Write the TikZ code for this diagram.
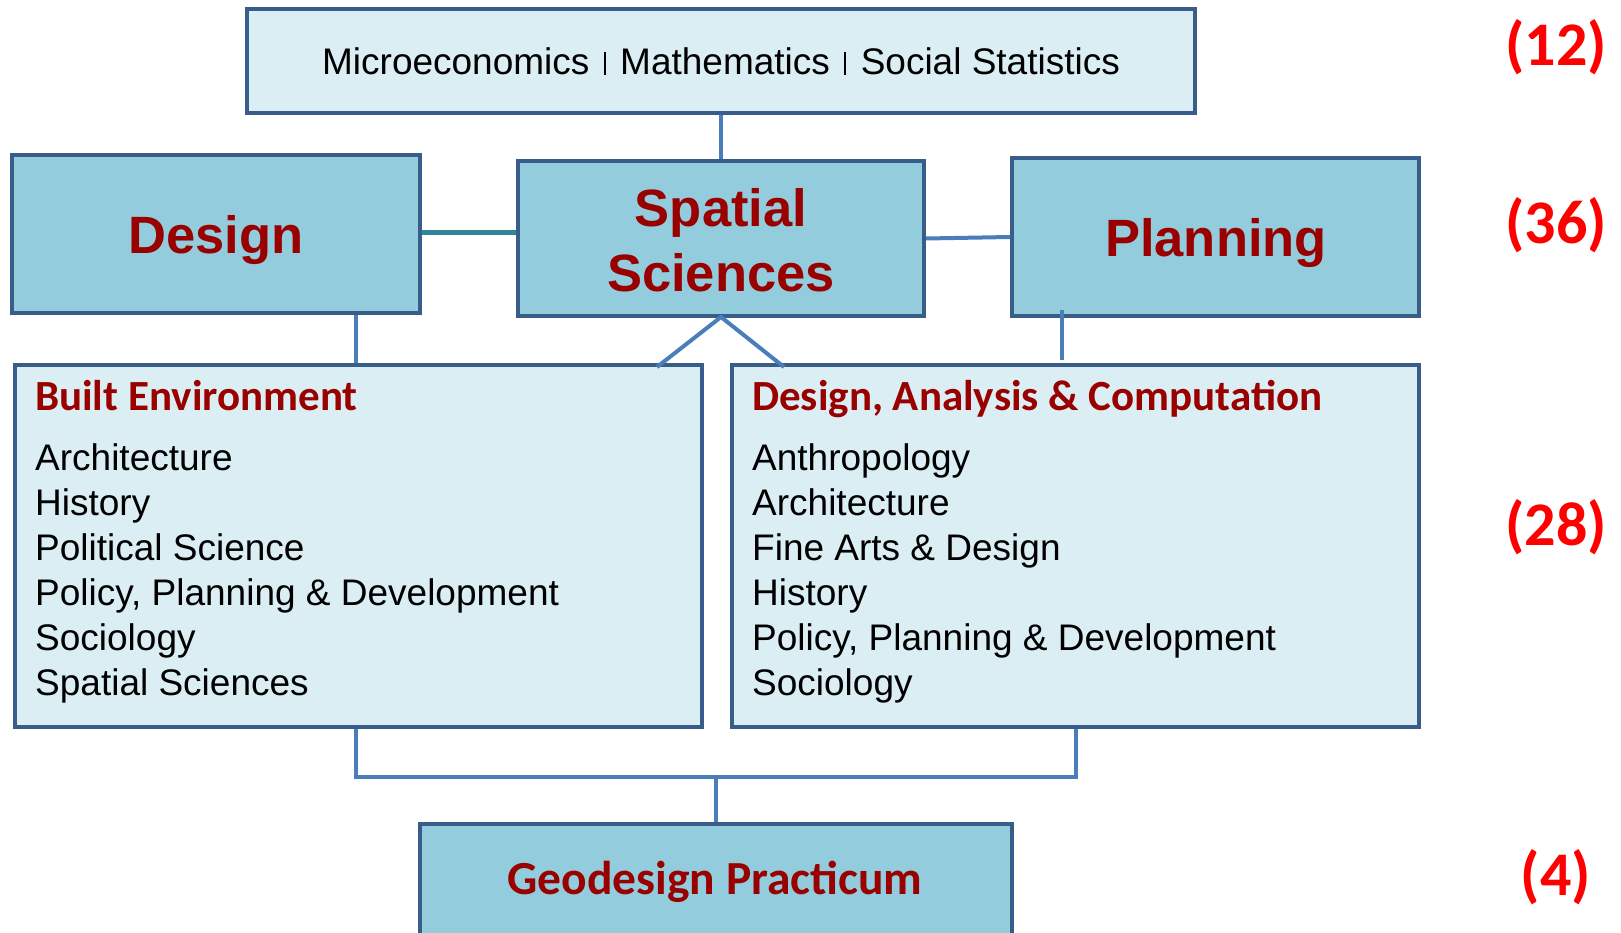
\documentclass[tikz,border=0pt]{standalone}
\usepackage{fontspec}
\setmainfont{Liberation Sans}
\newfontfamily\calib{Carlito}
\definecolor{lightfill}{RGB}{219,238,244}
\definecolor{darkfill}{RGB}{147,205,221}
\definecolor{bordercol}{RGB}{56,93,138}
\definecolor{linkcol}{RGB}{74,126,187}
\definecolor{tealcol}{RGB}{49,132,155}
\definecolor{titlered}{RGB}{153,0,0}
\definecolor{numred}{RGB}{255,0,0}
\tikzset{
  box/.style={draw=bordercol, line width=4pt, inner sep=0pt, rectangle},
  lightbox/.style={box, fill=lightfill},
  darkbox/.style={box, fill=darkfill},
  link/.style={draw=linkcol, line width=4pt},
  teallink/.style={draw=tealcol, line width=5pt},
  bigtitle/.style={text=titlered, font=\fontsize{52.5}{65}\selectfont\bfseries, align=center},
  subhead/.style={text=titlered, font=\calib\fontsize{43}{50}\selectfont\bfseries, anchor=base west, inner sep=0pt},
  item/.style={text=black, font=\fontsize{37}{45}\selectfont, anchor=base west, inner sep=0pt},
  count/.style={text=numred, font=\calib\fontsize{62}{70}\selectfont\bfseries},
}
\newcommand{\sepbar}{\hspace{14.5pt}\rule{1.8pt}{23pt}\hspace{14.5pt}}
\begin{document}
\begin{tikzpicture}[x=1pt,y=-1pt]
\useasboundingbox (0,0) rectangle (1621,933);
\clip (0,0) rectangle (1621,933);
% boxes
\node[lightbox, minimum width=948, minimum height=104] (top) at (721,61) {};
\node[darkbox, minimum width=408, minimum height=158] (design) at (216,234) {};
\node[darkbox, minimum width=406, minimum height=155] (spatial) at (721,238.5) {};
\node[darkbox, minimum width=407, minimum height=158] (planning) at (1215.5,237) {};
\node[lightbox, minimum width=687, minimum height=362] (be) at (358.5,546) {};
\node[lightbox, minimum width=687, minimum height=362] (dac) at (1075.5,546) {};
\node[darkbox, minimum width=592, minimum height=136] (geo) at (716,892) {};
% texts
\node[font=\fontsize{37}{45}\selectfont, anchor=base, inner sep=0pt] (toptext) at (721,75) {Microeconomics\sepbar Mathematics\sepbar Social Statistics};
\node[bigtitle] (designtext) at (216,240) {Design};
\node[bigtitle] (spatialtext) at (721,240) {Spatial\\Sciences};
\node[bigtitle] (planningtext) at (1216,243) {Planning};
\node[text=titlered, font=\calib\fontsize{47.5}{55}\selectfont\bfseries] (geotext) at (715,882) {Geodesign Practicum};
% built environment list
\node[subhead] (behead) at (35,410) {Built Environment};
\node[item] (be1) at (35,470) {Architecture};
\node[item] (be2) at (35,515) {History};
\node[item] (be3) at (35,560) {Political Science};
\node[item] (be4) at (35,605) {Policy, Planning \& Development};
\node[item] (be5) at (35,650) {Sociology};
\node[item] (be6) at (35,695) {Spatial Sciences};
% DAC list
\node[subhead] (dachead) at (752,410) {Design, Analysis \& Computation};
\node[item] (dac1) at (752,470) {Anthropology};
\node[item] (dac2) at (752,515) {Architecture};
\node[item] (dac3) at (752,560) {Fine Arts \& Design};
\node[item] (dac4) at (752,605) {History};
\node[item] (dac5) at (752,650) {Policy, Planning \& Development};
\node[item] (dac6) at (752,695) {Sociology};
% counts
\node[count] (c12) at (1556,47) {(12)};
\node[count] (c36) at (1556,225) {(36)};
\node[count] (c28) at (1556,527) {(28)};
\node[count] (c4) at (1556,877) {(4)};
% connectors
\coordinate (sptop) at (spatial.north);
\draw[link] (top.south) -- (sptop);
\draw[teallink] (design.east |- 0,233) coordinate (dR) -- (spatial.west |- 0,233) coordinate (sL);
\draw[link] (spatial.east) -- (planning.west);
\draw[link] (design.south -| 356,0) coordinate (dsb) -- (be.north -| 356,0) coordinate (ben);
\coordinate (plbot) at (1062,310);
\coordinate (dactop) at (1062,360);
\draw[link] (plbot) -- (dactop);
\coordinate (spbot) at (721,317);
\coordinate (beend) at (657,367);
\coordinate (dacend) at (784,367);
\draw[link] (beend) -- (spbot) -- (dacend);
\coordinate (bes) at (be.south -| 356,0);
\coordinate (brL) at (356,777);
\coordinate (brR) at (dac.south |- 0,777);
\draw[link] (bes) -- (brL) -- (brR) -- (dac.south);
\draw[link] (geo.north |- 0,777) -- (geo.north);
\end{tikzpicture}
\end{document}
